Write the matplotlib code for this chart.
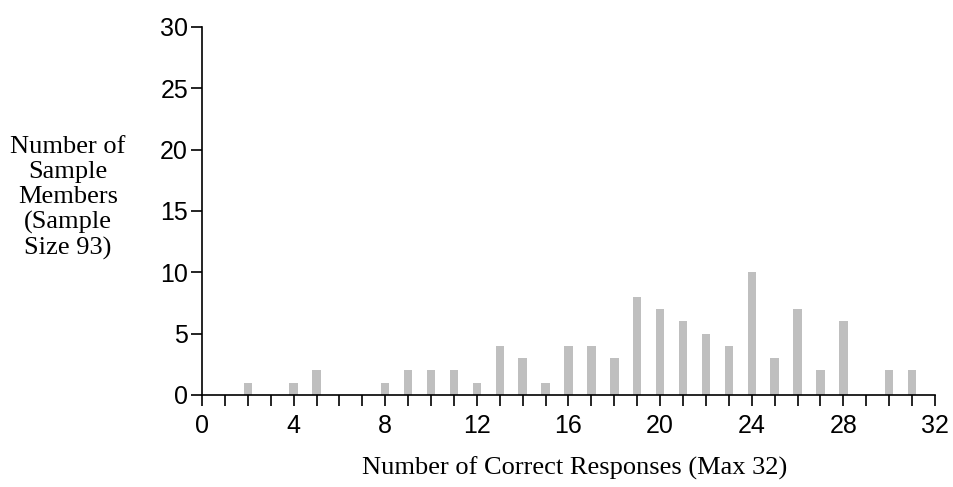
import matplotlib
matplotlib.use("Agg")
import matplotlib.pyplot as plt
from matplotlib.ticker import MultipleLocator

# number of correct responses and how many sample members got each
scores = [2, 4, 5, 8, 9, 10, 11, 12, 13, 14, 15, 16, 17, 18, 19, 20,
          21, 22, 23, 24, 25, 26, 27, 28, 30, 31]
counts = [1, 1, 2, 1, 2, 2, 2, 1, 4, 3, 1, 4, 4, 3, 8, 7,
          6, 5, 4, 10, 3, 7, 2, 6, 2, 2]
x_ticks = list(range(0, 33, 4))
y_ticks = list(range(0, 31, 5))

fig = plt.figure(figsize=(9.54, 4.87), dpi=100)
ax = fig.add_axes([202 / 954, 1 - 395 / 487, (935 - 202) / 954, (395 - 27) / 487])

ax.bar(scores, counts, width=0.37, color="#bfbfbf", zorder=2)

ax.set_xlim(0, 32)
ax.set_ylim(0, 30)
ax.set_xticks(x_ticks)
ax.set_yticks(y_ticks)
ax.xaxis.set_minor_locator(MultipleLocator(1))

for side in ("top", "right"):
    ax.spines[side].set_visible(False)
for side in ("left", "bottom"):
    ax.spines[side].set_linewidth(1.2)
    ax.spines[side].set_color("black")

ax.tick_params(axis="both", which="both", direction="out", length=8, width=1.2,
               colors="black")
ax.tick_params(axis="x", pad=6)
ax.tick_params(axis="y", pad=2)
for lab in ax.get_xticklabels() + ax.get_yticklabels():
    lab.set_fontfamily("Liberation Sans")
    lab.set_fontsize(18)

fig.text(68 / 954, 1 - 198 / 487, "Number of\nSample\nMembers\n(Sample\nSize 93)",
         ha="center", va="center", multialignment="center",
         family="Liberation Serif", fontsize=19, linespacing=1.18)
fig.text(575 / 954, 1 - 468 / 487, "Number of Correct Responses (Max 32)",
         ha="center", va="center", family="Liberation Serif", fontsize=19)

fig.savefig("out.png", dpi=100)
